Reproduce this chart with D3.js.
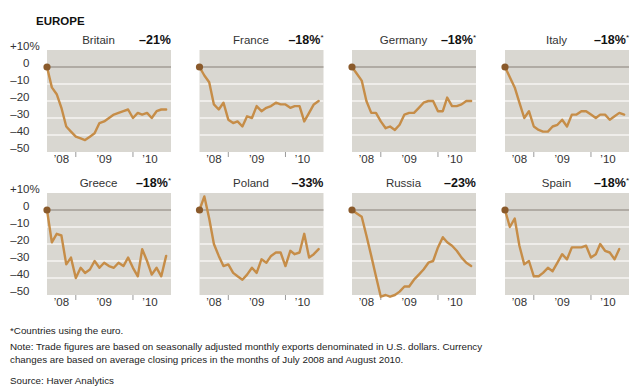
<!DOCTYPE html>
<html>
<head>
<meta charset="utf-8">
<script src="https://cdn.jsdelivr.net/npm/d3@7"></script>
<style>
  html, body { margin: 0; padding: 0; background: #fff; }
  svg { display: block; font-family: "Liberation Sans", Arial, Helvetica, sans-serif; }
</style>
</head>
<body>
<svg id="chart" width="640" height="390"></svg>
<script>
// ---------- DATA ----------
const countries = ["Britain", "France", "Germany", "Italy", "Greece", "Poland", "Russia", "Spain"];
const currencyChange = ["–21%", "–18%", "–18%", "–18%", "–18%", "–33%", "–23%", "–18%"];
const usesEuro = [false, true, true, true, true, false, false, true];

// Monthly exports, % change since July 2008
const britain = [0, -12, -16, -24, -35, -38, -41, -42, -43, -41, -39, -33, -32, -30, -28, -27, -26, -25, -30, -27, -28, -27, -30, -26, -25, -25];
const france  = [0, -5, -9, -22, -25, -21, -31, -33, -32, -35, -29, -30, -23, -26, -24, -23, -21, -22, -22, -24, -23, -23, -32, -27, -22, -20];
const germany = [0, -4, -8, -20, -27, -27, -32, -36, -35, -37, -34, -28, -27, -27, -24, -21, -20, -20, -26, -26, -18, -23, -23, -22, -20, -20];
const italy   = [0, -6, -12, -21, -30, -26, -35, -37, -38, -38, -35, -34, -31, -35, -28, -28, -26, -26, -28, -30, -28, -28, -31, -29, -27, -28];
const greece  = [0, -19, -14, -15, -32, -28, -40, -34, -37, -35, -30, -34, -31, -33, -34, -31, -33, -28, -34, -39, -23, -30, -38, -34, -39, -27];
const poland  = [0, 8, -5, -20, -27, -33, -32, -37, -39, -41, -38, -34, -37, -29, -31, -27, -25, -25, -33, -24, -26, -25, -14, -28, -26, -23];
const russia  = [0, -2, -4, -15, -27, -39, -51, -50, -51, -50, -48, -45, -45, -41, -38, -35, -31, -30, -22, -16, -19, -21, -24, -28, -31, -33];
const spain   = [0, -10, -5, -21, -32, -30, -39, -39, -37, -34, -36, -31, -26, -29, -22, -22, -22, -21, -28, -26, -20, -24, -25, -29, -23];
const seriesList = [britain, france, germany, italy, greece, poland, russia, spain];

const startMonth = new Date(2008, 6, 1);   // July 2008
const endMonth = new Date(2010, 8, 1);     // axis end
const yTicks = [10, 0, -10, -20, -30, -40, -50];
const yTickLabels = ["+10", "0", "–10", "–20", "–30", "–40", "–50"];
const yearTicks = [new Date(2009, 0, 1), new Date(2010, 0, 1)];
const yearLabels = ["’08", "’09", "’10"];
const yearLabelDates = [new Date(2008, 9, 1), new Date(2009, 6, 1), new Date(2010, 3, 20)];

const footnotes = [
  "*Countries using the euro.",
  "Note: Trade figures are based on seasonally adjusted monthly exports denominated in U.S. dollars.  Currency",
  "changes are based on average closing prices in the months of July 2008 and August 2010.",
  "Source: Haver Analytics"
];

// ---------- LAYOUT ----------
const svg = d3.select("#chart");
const colLeft = [47, 199.5, 352, 505];
const rowTop = [50, 193];
const pw = 124, ph = 102;

const C = {
  bg: "#d9d7d1", grid: "#f6f5f2", zero: "#a29d94", line: "#c68d48", dot: "#8a5a2b",
  text: "#333", tick: "#9a9a9a"
};

svg.append("text").attr("x", 36).attr("y", 25)
  .attr("font-size", 11.5).attr("font-weight", "bold").attr("fill", "#111")
  .text("EUROPE");

countries.forEach((name, i) => {
  const col = i % 4, row = Math.floor(i / 4);
  const left = colLeft[col], top = rowTop[row];
  const x = d3.scaleTime().domain([startMonth, endMonth]).range([left, left + pw]);
  const y = d3.scaleLinear().domain([-50, 10]).range([top + ph, top]);
  const g = svg.append("g");

  g.append("rect").attr("x", left).attr("y", top).attr("width", pw).attr("height", ph).attr("fill", C.bg);

  // gridlines
  g.selectAll("line.grid").data(yTicks.filter(v => v < 10 && v > -50 && v !== 0)).join("line")
    .attr("x1", left).attr("x2", left + pw)
    .attr("y1", d => y(d)).attr("y2", d => y(d))
    .attr("stroke", C.grid).attr("stroke-width", 1.5);
  g.append("line").attr("x1", left).attr("x2", left + pw)
    .attr("y1", y(0)).attr("y2", y(0)).attr("stroke", C.zero).attr("stroke-width", 1.5);

  // x ticks
  g.selectAll("line.xt").data(yearTicks).join("line")
    .attr("x1", d => x(d)).attr("x2", d => x(d))
    .attr("y1", top + ph).attr("y2", top + ph + 5)
    .attr("stroke", C.tick).attr("stroke-width", 1);
  g.selectAll("text.yl").data(yearLabels).join("text")
    .attr("x", (d, k) => x(yearLabelDates[k])).attr("y", top + ph + 10.5)
    .attr("text-anchor", "middle").attr("font-size", 11.5).attr("fill", C.text)
    .text(d => d);

  // y labels on first column
  if (col === 0) {
    g.selectAll("text.ylab").data(yTicks).join("text")
      .attr("x", 29.5).attr("y", d => y(d) - 0.5)
      .attr("text-anchor", "end").attr("font-size", 11.5).attr("fill", C.text)
      .text((d, k) => yTickLabels[k]);
    g.append("text").attr("x", 29.5).attr("y", y(10) - 0.5)
      .attr("font-size", 11.5).attr("fill", C.text).text("%");
  }

  // titles
  g.append("text").attr("x", left + 51.5).attr("y", top - 6)
    .attr("text-anchor", "middle").attr("font-size", 11.5).attr("fill", C.text)
    .text(name);
  const v = g.append("text").attr("x", left + pw).attr("y", top - 6)
    .attr("text-anchor", "end").attr("font-size", 12.5).attr("font-weight", "bold").attr("fill", "#111")
    .text(currencyChange[i]);
  if (usesEuro[i]) {
    v.append("tspan").attr("font-size", 8).attr("font-weight", "normal").attr("dy", -4).text("*");
  }

  // series line
  const data = seriesList[i].map((val, m) => ({ date: d3.timeMonth.offset(startMonth, m), value: val }));
  const line = d3.line().x(d => x(d.date)).y(d => y(d.value));
  g.append("path").datum(data).attr("d", line)
    .attr("fill", "none").attr("stroke", C.line).attr("stroke-width", 2.4)
    .attr("stroke-linejoin", "round").attr("stroke-linecap", "round");
  g.append("circle").attr("cx", x(data[0].date)).attr("cy", y(data[0].value)).attr("r", 3.6).attr("fill", C.dot);
});

// footnotes
const fnY = [334, 350, 362.5, 384];
svg.selectAll("text.fn").data(footnotes).join("text")
  .attr("x", 10).attr("y", (d, k) => fnY[k])
  .attr("font-size", 9.8).attr("fill", "#222")
  .text(d => d);
</script>
</body>
</html>
